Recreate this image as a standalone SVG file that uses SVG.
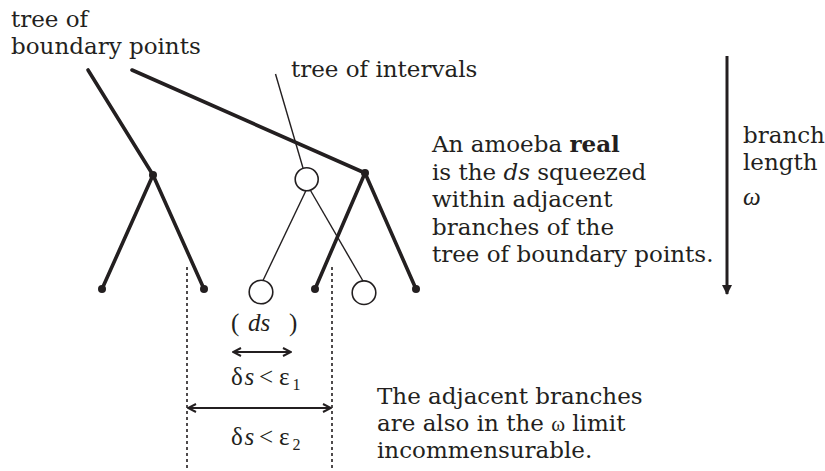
<svg xmlns="http://www.w3.org/2000/svg" width="825" height="471" viewBox="0 0 825 471">
<style>
.t{font-family:"DejaVu Serif",serif;font-size:23px;fill:#231f20}
.m{font-family:"Liberation Serif",serif;font-size:25px;fill:#231f20}
.thick{stroke:#231f20;stroke-width:3.6;fill:none;stroke-linecap:round}
.thin{stroke:#231f20;stroke-width:1.4;fill:none}
.dot{fill:#231f20}
.circ{fill:#fff;stroke:#231f20;stroke-width:1.6}
.dotted{stroke:#231f20;stroke-width:1.6;stroke-dasharray:3 3;fill:none}
.dbl{stroke:#231f20;stroke-width:2;fill:none;marker-start:url(#chev);marker-end:url(#chev)}
</style>
<defs>
<marker id="chev" viewBox="0 0 10 10" refX="9" refY="5" markerWidth="10" markerHeight="10" markerUnits="userSpaceOnUse" orient="auto-start-reverse">
<path d="M1,1 L9,5 L1,9" fill="none" stroke="#231f20" stroke-width="2"/>
</marker>
<marker id="tri" viewBox="0 0 10 10" refX="9" refY="5" markerWidth="11" markerHeight="10" markerUnits="userSpaceOnUse" orient="auto">
<path d="M0,0 L10,5 L0,10 Z" fill="#231f20"/>
</marker>
</defs>
<g id="connectors">
<line class="thick" x1="88" y1="70" x2="153" y2="175"/>
<line class="thick" x1="153" y1="175" x2="102" y2="289"/>
<line class="thick" x1="153" y1="175" x2="204" y2="289"/>
<line class="thick" x1="132" y1="70" x2="365" y2="173"/>
<line class="thick" x1="365" y1="173" x2="315" y2="289"/>
<line class="thick" x1="365" y1="173" x2="416" y2="289"/>
<line class="thin" x1="275.5" y1="74" x2="303" y2="168"/>
<line class="thin" x1="306" y1="190.5" x2="263" y2="280.5"/>
<line class="thin" x1="310.5" y1="190.5" x2="363" y2="281"/>
<line class="dotted" x1="187" y1="267" x2="187" y2="471"/>
<line class="dotted" x1="332" y1="267" x2="332" y2="471"/>
<line class="dbl" x1="233" y1="352" x2="291" y2="352"/>
<line class="dbl" x1="188" y1="408" x2="331" y2="408"/>
<line stroke="#231f20" stroke-width="3" x1="727" y1="56" x2="727" y2="294" marker-end="url(#tri)"/>
</g>
<g id="boundary-tree">
<circle class="dot" cx="153" cy="175" r="4"/>
<circle class="dot" cx="102" cy="289" r="4"/>
<circle class="dot" cx="204" cy="289" r="4"/>
<circle class="dot" cx="365" cy="173" r="4"/>
<circle class="dot" cx="315" cy="289" r="4"/>
<circle class="dot" cx="416" cy="289" r="4"/>
</g>
<g id="interval-tree">
<circle class="circ" cx="306.7" cy="179.3" r="11.5"/>
<circle class="circ" cx="261" cy="292" r="11.8"/>
<circle class="circ" cx="364" cy="292.7" r="11.8"/>
</g>
<g id="labels">
<text class="t" x="11" y="27">tree of</text>
<text class="t" x="11" y="54">boundary points</text>
<text class="t" x="291" y="77">tree of intervals</text>
<text class="t" x="432" y="152">An amoeba <tspan font-weight="bold">real</tspan></text>
<text class="t" x="432" y="179.5">is the <tspan font-style="italic">ds</tspan> squeezed</text>
<text class="t" x="432" y="207">within adjacent</text>
<text class="t" x="432" y="234.5">branches of the</text>
<text class="t" x="432" y="262">tree of boundary points.</text>
<text class="t" x="743" y="143">branch</text>
<text class="t" x="743" y="170">length</text>
<text class="m" x="743" y="205" font-style="italic" font-size="20">ω</text>
<text class="t" x="377" y="404">The adjacent branches</text>
<text class="t" x="377" y="431">are also in the <tspan font-family="Liberation Serif" font-size="21">ω</tspan> limit</text>
<text class="t" x="377" y="458">incommensurable.</text>
<text class="m" y="331"><tspan x="231">(</tspan><tspan x="248" font-style="italic">ds</tspan><tspan x="289">)</tspan></text>
<text class="m" y="385"><tspan x="231">δ</tspan><tspan x="244.5" font-style="italic">s</tspan><tspan x="259">&lt;</tspan><tspan x="279">ε</tspan><tspan x="292.5" y="390" font-size="16">1</tspan></text>
<text class="m" y="445"><tspan x="231">δ</tspan><tspan x="244.5" font-style="italic">s</tspan><tspan x="259">&lt;</tspan><tspan x="279">ε</tspan><tspan x="292.5" y="450" font-size="16">2</tspan></text>
</g>
</svg>
